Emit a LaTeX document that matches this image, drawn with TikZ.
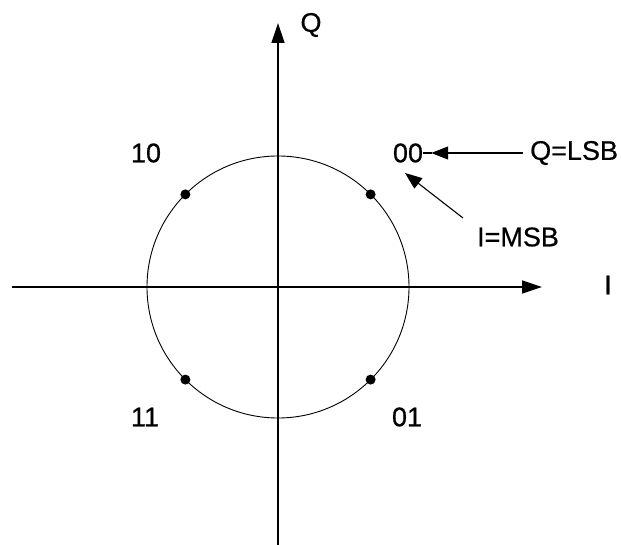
\documentclass[tikz,border=0pt]{standalone}
\usepackage{fontspec}
\setmainfont{Liberation Sans}
\newfontfamily\lblfont[FakeBold=0.6]{Liberation Sans}
\usetikzlibrary{arrows.meta}
\begin{document}
\begin{tikzpicture}[x=1pt,y=-1pt,
  lbl/.style={inner sep=0pt,font=\lblfont\fontsize{27}{27}\selectfont},
  axis/.style={line width=1.3pt,-{Triangle[length=20pt,width=13pt]}},
  pointer/.style={line width=1.1pt,-{Triangle[length=17pt,width=13pt]}},
  sym/.style={circle,fill=black,inner sep=0pt,minimum size=10pt}]
\useasboundingbox (0,0) rectangle (621,545);
\coordinate (c) at (278,287);
\coordinate (xs) at (12,287);
\coordinate (xe) at (542,287);
\coordinate (ys) at (278,545);
\coordinate (ye) at (278,23);
\draw[axis] (xs) -- (xe);
\draw[axis] (ys) -- (ye);
\draw[line width=0.9pt] (c) circle (131);
\node[sym] (p00) at (370.6,194.4) {};
\node[sym] (p10) at (185.4,194.4) {};
\node[sym] (p11) at (185.4,379.6) {};
\node[sym] (p01) at (370.6,379.6) {};
\node[lbl] (q) at (311,25) {Q};
\node[lbl] (i) at (608,285) {I};
\node[lbl] (l10) at (146,153) {10};
\node[lbl] (l11) at (145,417) {11};
\node[lbl] (l01) at (407,417) {01};
\node[lbl] (l00) at (408,153) {00};
\node[lbl,anchor=west] (lsb) at (530,153) {Q=LSB};
\node[lbl] (msb) at (518,237) {I=MSB};
\coordinate (msbtail) at (463,218);
\draw[pointer,shorten <=7pt] (lsb.west) -- ([xshift=8pt]l00.east);
\draw[line width=1.1pt] (l00.east) -- ([xshift=9pt]l00.east);
\draw[pointer] (msbtail) -- (405,173);
\end{tikzpicture}
\end{document}
